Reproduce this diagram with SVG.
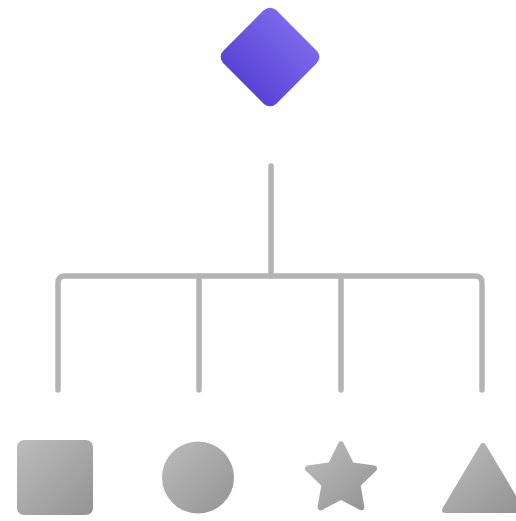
<svg xmlns="http://www.w3.org/2000/svg" width="516" height="521" viewBox="0 0 516 521">
<defs>
<linearGradient id="gPurple" x1="0" y1="0" x2="0" y2="1">
<stop offset="0" stop-color="#7c68ea"/>
<stop offset="1" stop-color="#5a43d6"/>
</linearGradient>
<linearGradient id="gGray" x1="0" y1="0" x2="1" y2="1">
<stop offset="0" stop-color="#bcbcbc"/>
<stop offset="1" stop-color="#939393"/>
</linearGradient>
<style>
.conn{fill:none;stroke:#b4b4b4;stroke-width:5.5;stroke-linecap:round;stroke-linejoin:round}
.shape{fill:url(#gGray)}
</style>
</defs>
<rect width="516" height="521" fill="#ffffff"/>
<g id="connectors">
<path class="conn" d="M271 166 V276"/>
<path class="conn" d="M58 390 V283 Q58 276 65 276 H475 Q482 276 482 283 V390"/>
<path class="conn" d="M199 276 V390"/>
<path class="conn" d="M341 276 V390"/>
</g>
<g id="root">
<rect x="-37.5" y="-37.5" width="75" height="75" rx="9" fill="url(#gPurple)" transform="translate(270 57) rotate(45)"/>
</g>
<g id="square">
<rect class="shape" x="17" y="440" width="76" height="75" rx="7"/>
</g>
<g id="circle">
<circle class="shape" cx="198" cy="477.5" r="36"/>
</g>
<g id="star">
<path class="shape" stroke="url(#gGray)" stroke-width="6" stroke-linejoin="round" d="M341 444.5 L351.2 465.2 L374 468.5 L357.5 484.6 L361.4 507.3 L341 496.6 L320.6 507.3 L324.5 484.6 L308 468.5 L330.8 465.2 Z"/>
</g>
<g id="triangle">
<path class="shape" stroke="url(#gGray)" stroke-width="6" stroke-linejoin="round" d="M483 446 L521 510 L445 510 Z"/>
</g>
</svg>
